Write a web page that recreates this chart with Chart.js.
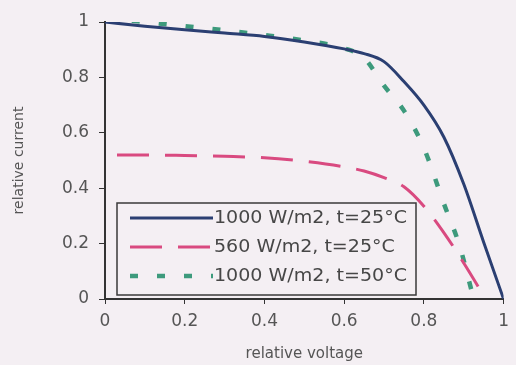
<!DOCTYPE html>
<html lang="en">
<head>
<meta charset="UTF-8">
<title>relative current</title>
<script src="https://cdn.jsdelivr.net/npm/chart.js"></script>
<style>
  html, body { margin: 0; padding: 0; background: #f4eff3; }
  #wrap { width: 516px; height: 365px; }
</style>
</head>
<body>
<div id="wrap"><canvas id="myChart" width="516" height="365"></canvas></div>
<script>
  // series labels
  var seriesNames = ['1000 W/m2, t=25°C', '560 W/m2, t=25°C', '1000 W/m2, t=50°C'];

  // 1000 W/m2, 25°C
  var v1 = [0, 0.1, 0.2, 0.3, 0.4, 0.5, 0.6, 0.65, 0.7, 0.75, 0.8, 0.85, 0.9, 0.95, 1.0];
  var i1 = [1.0, 0.985, 0.972, 0.96, 0.948, 0.928, 0.903, 0.886, 0.857, 0.785, 0.7, 0.585, 0.415, 0.205, 0];

  // 560 W/m2, 25°C
  var v2 = [0, 0.1, 0.2, 0.3, 0.4, 0.5, 0.6, 0.65, 0.7, 0.75, 0.8, 0.85, 0.9, 0.955];
  var i2 = [0.52, 0.52, 0.518, 0.515, 0.51, 0.497, 0.477, 0.462, 0.438, 0.405, 0.335, 0.24, 0.13, 0];

  // 1000 W/m2, 50°C
  var v3 = [0, 0.1, 0.2, 0.3, 0.4, 0.5, 0.6, 0.65, 0.7, 0.75, 0.8, 0.85, 0.89, 0.925];
  var i3 = [1.015, 1.0, 0.985, 0.97, 0.953, 0.933, 0.905, 0.87, 0.77, 0.68, 0.545, 0.345, 0.19, 0];

  var xTicks = [0, 0.2, 0.4, 0.6, 0.8, 1];
  var yTicks = [0, 0.2, 0.4, 0.6, 0.8, 1];

  var fam = '"DejaVu Sans", Verdana, sans-serif';

  function pts(xs, ys) {
    return xs.map(function (x, k) { return { x: x, y: ys[k] }; });
  }

  // legend drawn inside the plot, in a box
  var boxLegend = {
    id: 'boxLegend',
    afterDraw: function (chart) {
      var c = chart.ctx, a = chart.chartArea;
      var bx = a.left + 12, by = a.bottom - 96, bw = 299, bh = 92;
      c.save();
      c.strokeStyle = '#3a3a3a';
      c.lineWidth = 1.5;
      c.strokeRect(bx, by, bw, bh);
      chart.data.datasets.forEach(function (ds, k) {
        var yy = by + 15 + k * 29;
        c.strokeStyle = ds.borderColor;
        c.lineWidth = ds.borderWidth;
        c.setLineDash(ds.borderDash || []);
        c.beginPath();
        c.moveTo(bx + 13, yy);
        c.lineTo(bx + 96, yy);
        c.stroke();
        c.setLineDash([]);
        c.save();
        c.translate(bx + 97, yy + 1);
        c.scale(1.12, 1);
        c.fillStyle = '#474747';
        c.font = '17px ' + fam;
        c.textBaseline = 'middle';
        c.fillText(ds.label, 0, 0);
        c.restore();
      });
      c.restore();
    }
  };

  var ctx = document.getElementById('myChart');

  new Chart(ctx, {
    type: 'line',
    data: {
      datasets: [
        { label: seriesNames[0], data: pts(v1, i1), borderColor: '#2b3f72', borderWidth: 3, pointRadius: 0, cubicInterpolationMode: 'monotone' },
        { label: seriesNames[1], data: pts(v2, i2), borderColor: '#d94a80', borderWidth: 3, borderDash: [32, 16], borderDashOffset: 36, pointRadius: 0, cubicInterpolationMode: 'monotone' },
        { label: seriesNames[2], data: pts(v3, i3), borderColor: '#3d9a7c', borderWidth: 4.5, borderDash: [8, 19], pointRadius: 0, cubicInterpolationMode: 'monotone' }
      ]
    },
    options: {
      responsive: false,
      animation: false,
      layout: { padding: { top: 22, right: 9, left: 0, bottom: 0 } },
      plugins: { legend: { display: false }, tooltip: { enabled: false } },
      scales: {
        x: {
          type: 'linear', min: 0, max: 1,
          afterBuildTicks: function (s) { s.ticks = xTicks.map(function (v) { return { value: v }; }); },
          afterFit: function (s) { s.height = 66; },
          ticks: { color: '#555', font: { size: 17, family: fam }, padding: 7, maxRotation: 0,
                   callback: function (v) { return String(Math.round(v * 10) / 10); } },
          grid: { drawOnChartArea: false, drawTicks: true, tickLength: 5, color: '#333' },
          border: { display: true, color: '#333', width: 2 },
          title: { display: true, text: 'relative voltage', color: '#555', font: { size: 15, family: fam }, padding: { top: 0, bottom: 2 } }
        },
        y: {
          type: 'linear', min: 0, max: 1,
          afterBuildTicks: function (s) { s.ticks = yTicks.map(function (v) { return { value: v }; }); },
          afterFit: function (s) { s.width = 105; },
          ticks: { color: '#555', font: { size: 17, family: fam }, padding: 10,
                   callback: function (v) { return String(Math.round(v * 10) / 10); } },
          grid: { drawOnChartArea: false, drawTicks: true, tickLength: 6, color: '#333' },
          border: { display: true, color: '#333', width: 2 },
          title: { display: true, text: 'relative current', color: '#555', font: { size: 14, family: fam }, padding: { top: 11, bottom: 0 } }
        }
      }
    },
    plugins: [boxLegend]
  });
</script>
</body>
</html>
